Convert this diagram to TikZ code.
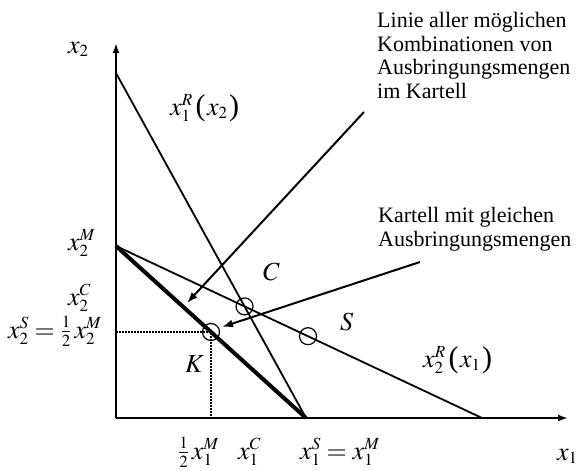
\documentclass[tikz,border=0pt]{standalone}
\usepackage{mathptmx}
\usepackage[no-math]{fontspec}
\setmainfont{Liberation Serif}
\DeclareMathSizes{26}{26}{17}{13}
\usetikzlibrary{arrows.meta,calc}
\newcommand{\bigpar}[1]{\mbox{\fontsize{30}{30}\selectfont#1}}
\newcommand{\respfn}[3]{#1_{#2}^{R}\mskip2mu\bigpar{(}\mskip1mu #3\mskip1mu\bigpar{)}}
\tikzset{
  axis/.style={line width=2pt,-{Latex[length=10pt,width=7pt]}},
  curve/.style={line width=1.8pt},
  thickline/.style={line width=4pt},
  dotline/.style={line width=2.5pt,dash pattern=on 1.8pt off 1.2pt},
  pointer/.style={line width=2pt,-{Latex[length=11pt,width=8pt]}},
  mark circle/.style={circle,draw,line width=1.2pt,minimum size=17pt,inner sep=0pt},
  lab/.style={inner sep=0pt,anchor=base west,font=\fontsize{26}{28}\selectfont},
  note/.style={inner sep=0pt,anchor=north west,align=left,font=\fontsize{22}{23.7}\selectfont}
}
\begin{document}
\begin{tikzpicture}[x=1pt,y=-1pt]
\useasboundingbox (0,0) rectangle (576,471);
% axis points
\coordinate (O) at (116,418);
\coordinate (Ytop) at (116,43);
\coordinate (Xend) at (568,418);
\coordinate (A) at (116,73);
\coordinate (B) at (306,418);
\coordinate (M2) at (116,246);
\coordinate (E) at (482,418);
% lines
\draw[curve] (A) -- (B);
\draw[curve] (M2) -- (E);
\draw[thickline] (M2) -- (B);
\coordinate (Kp) at ($(M2)!0.5!(B)$);
\coordinate (Cp) at (intersection of A--B and M2--E);
\coordinate (Sp) at (308,336.2);
\coordinate (Ky) at (O |- Kp);
\coordinate (Kx) at (O -| Kp);
\draw[dotline] (Ky) -- (Kp) -- (Kx);
\draw[axis] (O) -- (Ytop);
\draw[axis] (O) -- (Xend);
\node[mark circle] (cK) at (Kp) {};
\node[mark circle] (cC) at (Cp) {};
\node[mark circle] (cS) at (Sp) {};
% labels
\node[lab] (lx2) at (68,53) {$x_2$};
\node[lab] (lx1) at (557,460) {$x_1$};
\node[lab] (lR1) at (170,115) {$\respfn{x}{1}{x_2}$};
\node[lab] (lR2) at (423,367) {$\respfn{x}{2}{x_1}$};
\node[lab] (lM2) at (68,250) {$x_2^M$};
\node[lab] (lC2) at (68,305) {$x_2^C$};
\node[lab] (lS2) at (8,338) {$x_2^S=\frac{1}{2}\,x_2^M$};
\node[lab] (lK) at (185,372) {$K$};
\node[lab] (lC) at (263,280) {$C$};
\node[lab] (lS) at (340,330) {$S$};
\node[lab] (lhalf) at (178,459) {$\frac{1}{2}\,x_1^M$};
\node[lab] (lC1) at (238,459) {$x_1^C$};
\node[lab] (lS1) at (300,459) {$x_1^S=x_1^M$};
% notes
\node[note] (n1) at (377,12) {Linie aller möglichen\\Kombinationen von\\Ausbringungsmengen\\im Kartell};
\node[note] (n2) at (378,207) {Kartell mit gleichen\\Ausbringungsmengen};
\coordinate (a1s) at (364,112);
\coordinate (a1e) at (187,303);
\coordinate (a2s) at (420,262);
\coordinate (a2e) at (222,327);
\draw[pointer] (a1s) -- (a1e);
\draw[pointer] (a2s) -- (a2e);
\end{tikzpicture}
\end{document}
